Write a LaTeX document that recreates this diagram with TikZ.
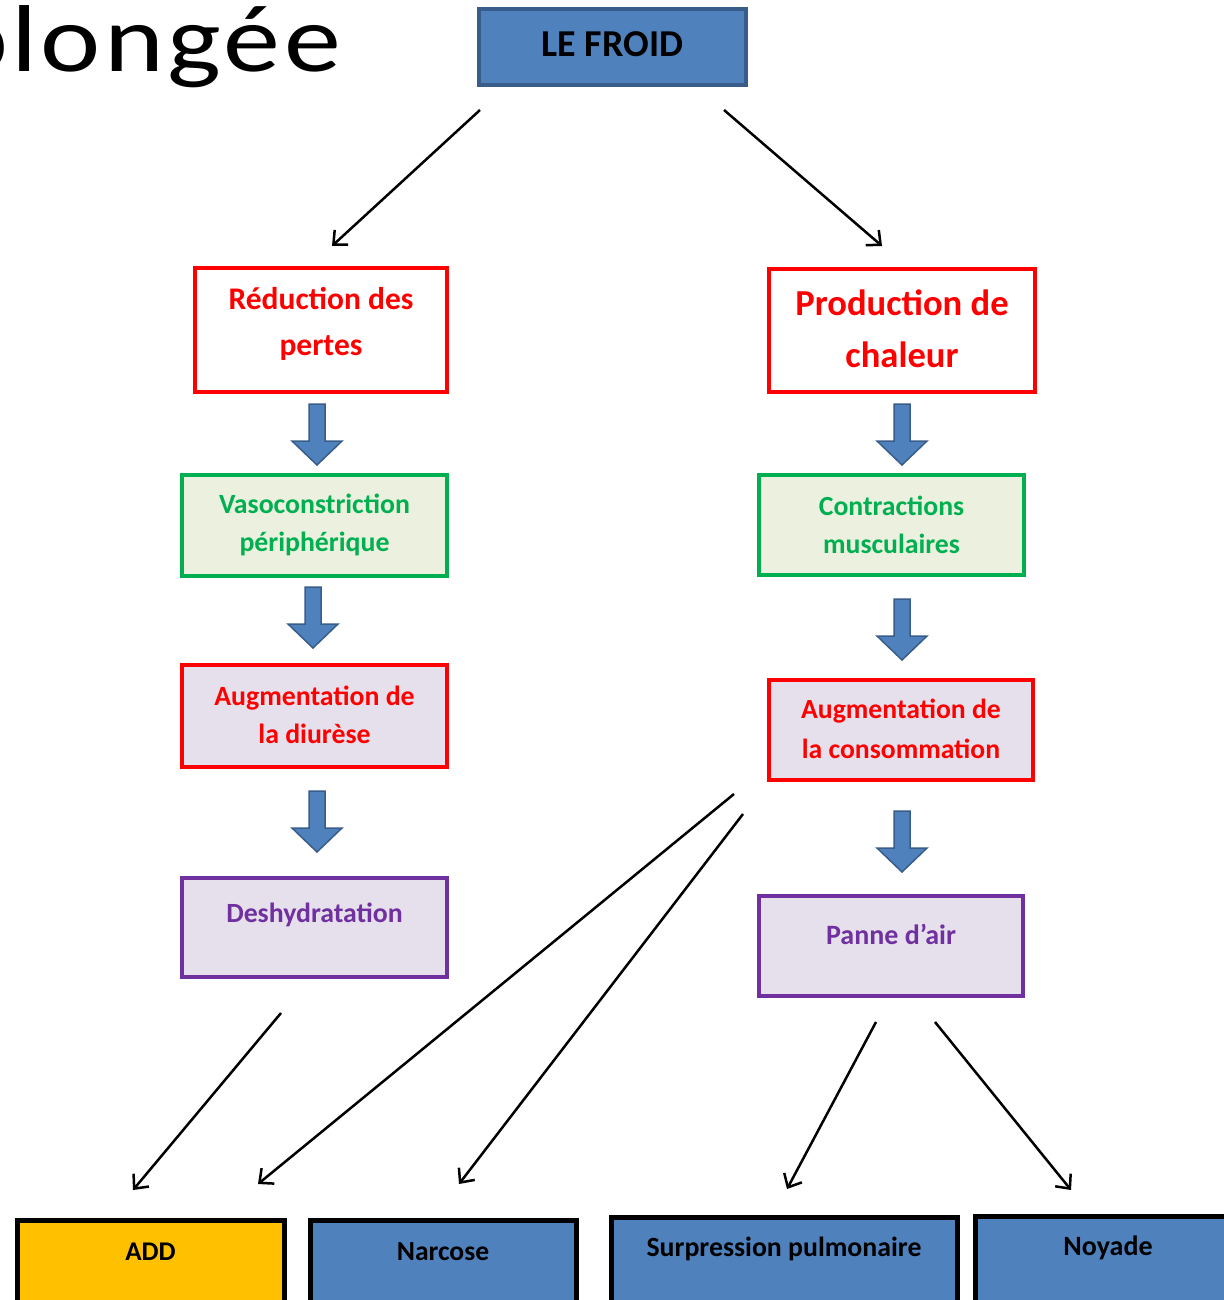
\documentclass[tikz,border=0pt]{standalone}
\usepackage{fontspec}
\setmainfont{Carlito}
\newfontfamily\titlefont[LetterSpace=3]{Carlito}
\usetikzlibrary{arrows.meta}
\definecolor{cblue}{HTML}{4F81BD}
\definecolor{cblueb}{HTML}{385D8A}
\definecolor{cred}{HTML}{FF0000}
\definecolor{cgreen}{HTML}{00B050}
\definecolor{cgreenf}{HTML}{EBF1DE}
\definecolor{cpurple}{HTML}{7030A0}
\definecolor{clav}{HTML}{E6E0EC}
\definecolor{cgold}{HTML}{FFC000}
\tikzset{
  box/.style={draw, rectangle, inner sep=0pt, outer sep=0pt},
  redbox/.style={box, draw=cred, line width=4pt},
  greenbox/.style={box, draw=cgreen, fill=cgreenf, line width=4pt},
  purplebox/.style={box, draw=cpurple, fill=clav, line width=4pt},
  endbox/.style={box, draw=black, line width=5pt},
  txt/.style={inner sep=0pt, align=center, font=\bfseries},
  blockarrow/.style={fill=cblue, draw=cblueb, line width=1.5pt, line join=miter},
  conn/.style={line width=2.5pt, -{Straight Barb[length=11pt,width=20pt,line width=2.5pt]}}
}
\newcommand{\blockdown}[2]{%
  \draw[blockarrow] (#1-8,#2) -- (#1+8,#2) -- (#1+8,#2+37) -- (#1+25,#2+37)
    -- (#1,#2+61) -- (#1-25,#2+37) -- (#1-8,#2+37) -- cycle;}
\begin{document}
\begin{tikzpicture}[x=1pt,y=-1pt]
\useasboundingbox (0,0) rectangle (1223,1300);
\fill[white] (0,0) rectangle (1223,1300);

% title fragment
\node[inner sep=0pt, anchor=base west, xscale=1.2, font=\titlefont\fontsize{95}{95}\selectfont] (title) at (-52,72) {plongée};

% top box
\node[box, draw=cblueb, fill=cblue, line width=4pt, minimum width=267pt, minimum height=76pt] (froid) at (612.5,47) {};
\node[txt, font=\bfseries\fontsize{38}{38}\selectfont] (froidt) at (612.5,44) {LE FROID};

% left column
\node[redbox, minimum width=252pt, minimum height=124pt] (red1) at (321,330) {};
\node[txt, text=cred, font=\bfseries\fontsize{31.5}{46}\selectfont] (red1t) at (321,324) {Réduction des\\pertes};

\node[greenbox, minimum width=265pt, minimum height=101pt] (green1) at (314.5,525.5) {};
\node[txt, text=cgreen, font=\bfseries\fontsize{27.8}{38}\selectfont] (green1t) at (314.5,525) {Vasoconstriction\\périphérique};

\node[redbox, fill=clav, minimum width=265pt, minimum height=102pt] (red2) at (314.5,716) {};
\node[txt, text=cred, font=\bfseries\fontsize{27.8}{38}\selectfont] (red2t) at (314.5,715) {Augmentation de\\la diurèse};

\node[purplebox, minimum width=265pt, minimum height=99pt] (purple1) at (314.5,927.5) {};
\node[txt, text=cpurple, font=\bfseries\fontsize{27.8}{30}\selectfont] (purple1t) at (314.5,915) {Deshydratation};

% right column
\node[redbox, minimum width=266pt, minimum height=123pt] (red3) at (902,330.5) {};
\node[txt, text=cred, font=\bfseries\fontsize{36.6}{52}\selectfont] (red3t) at (902,329) {Production de\\chaleur};

\node[greenbox, minimum width=265pt, minimum height=100pt] (green2) at (891.5,525) {};
\node[txt, text=cgreen, font=\bfseries\fontsize{27.7}{38}\selectfont] (green2t) at (891.5,525) {Contractions\\musculaires};

\node[redbox, fill=clav, minimum width=264pt, minimum height=100pt] (red4) at (901,730) {};
\node[txt, text=cred, font=\bfseries\fontsize{27.7}{40}\selectfont] (red4t) at (901,729) {Augmentation de\\la consommation};

\node[purplebox, minimum width=264pt, minimum height=100pt] (purple2) at (891,946) {};
\node[txt, text=cpurple, font=\bfseries\fontsize{28}{30}\selectfont] (purple2t) at (891,934) {Panne d’air};

% bottom boxes
\node[endbox, fill=cgold, minimum width=267pt, minimum height=110pt] (add) at (150.5,1275) {};
\node[txt, font=\bfseries\fontsize{27}{28}\selectfont] (addt) at (150.5,1252) {ADD};

\node[endbox, fill=cblue, minimum width=266pt, minimum height=110pt] (narc) at (443,1275) {};
\node[txt, font=\bfseries\fontsize{27.6}{28}\selectfont] (narct) at (443,1252) {Narcose};

\node[endbox, fill=cblue, minimum width=346pt, minimum height=113pt] (surp) at (784,1273.5) {};
\node[txt, font=\bfseries\fontsize{27.8}{28}\selectfont] (surpt) at (784,1249) {Surpression pulmonaire};

\node[endbox, fill=cblue, minimum width=270pt, minimum height=114pt] (noy) at (1110,1273) {};
\node[txt, font=\bfseries\fontsize{28}{28}\selectfont] (noyt) at (1108,1248) {Noyade};

% block arrows
\blockdown{317}{404}
\blockdown{313}{587}
\blockdown{317}{791}
\blockdown{902}{404}
\blockdown{902}{599}
\blockdown{902}{811}

% connector end points
\coordinate (a1s) at (480,110); \coordinate (a1e) at (332,246);
\coordinate (a2s) at (724,110); \coordinate (a2e) at (882,246);
\coordinate (a3s) at (281,1013); \coordinate (a3e) at (133,1190);
\coordinate (a4s) at (734,794); \coordinate (a4e) at (258,1184);
\coordinate (a5s) at (743,814); \coordinate (a5e) at (459,1184);
\coordinate (a6s) at (876,1022); \coordinate (a6e) at (787,1189);
\coordinate (a7s) at (935,1022); \coordinate (a7e) at (1071,1190);

\draw[conn] (a1s) -- (a1e);
\draw[conn] (a2s) -- (a2e);
\draw[conn] (a3s) -- (a3e);
\draw[conn] (a4s) -- (a4e);
\draw[conn] (a5s) -- (a5e);
\draw[conn] (a6s) -- (a6e);
\draw[conn] (a7s) -- (a7e);
\end{tikzpicture}
\end{document}
